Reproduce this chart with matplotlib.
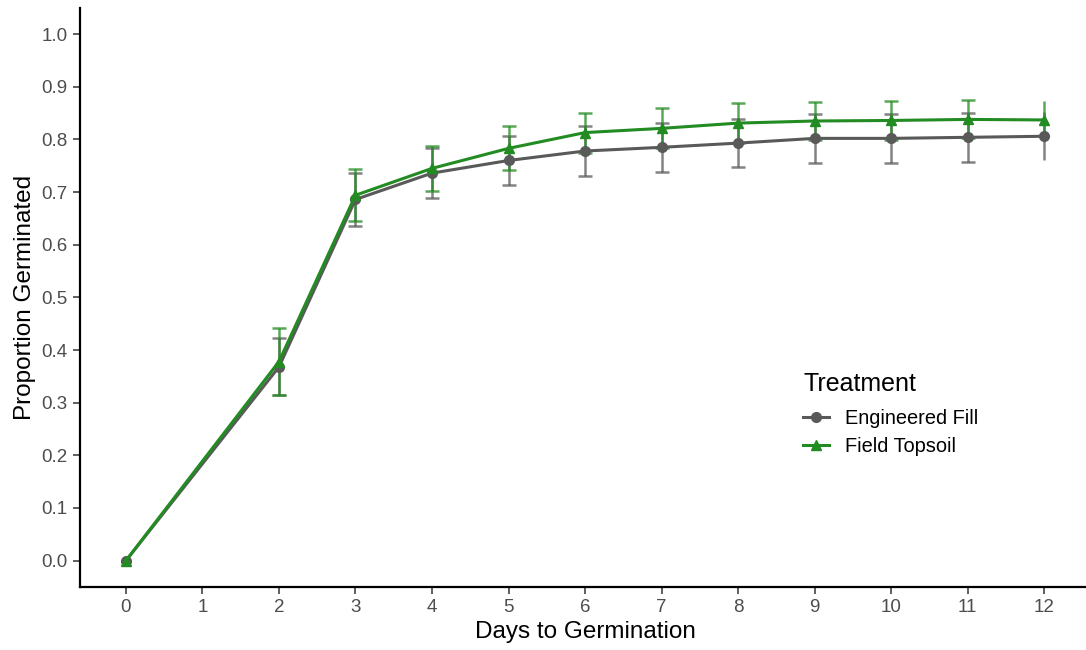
import numpy as np
import matplotlib.pyplot as plt

plt.rcParams['font.family'] = ['Liberation Sans', 'DejaVu Sans']

# germination curves, mean proportion and standard error per day
days = [0, 2, 3, 4, 5, 6, 7, 8, 9, 10, 11, 12]
fill_mean = [0.0, 0.368, 0.686, 0.736, 0.760, 0.778, 0.785, 0.793, 0.802, 0.802, 0.804, 0.806]
fill_se = [0.0, 0.054, 0.051, 0.047, 0.046, 0.047, 0.046, 0.046, 0.047, 0.046, 0.046, 0.046]
topsoil_mean = [0.0, 0.378, 0.694, 0.745, 0.783, 0.813, 0.821, 0.831, 0.835, 0.836, 0.838, 0.837]
topsoil_se = [0.0, 0.063, 0.049, 0.043, 0.042, 0.038, 0.038, 0.038, 0.036, 0.037, 0.036, 0.036]

series = [
    ("Engineered Fill", fill_mean, fill_se, "#595959", "o"),
    ("Field Topsoil", topsoil_mean, topsoil_se, "#228B22", "^"),
]

fig = plt.figure(figsize=(10.86, 6.5), dpi=100)
ax = fig.add_axes([0.0737, 0.097, 0.93, 0.891])

x = np.array(days)
for name, mean, se, col, mk in series:
    mean = np.array(mean)
    se = np.array(se)
    has = se > 0
    # caps on all bars except the last day
    capped = has & (x < 12)
    ax.errorbar(x[capped], mean[capped], yerr=se[capped], fmt='none',
                ecolor=col, alpha=0.75, elinewidth=1.8, capsize=5, capthick=1.8, zorder=2)
    last = has & (x == 12)
    ax.errorbar(x[last], mean[last], yerr=se[last], fmt='none',
                ecolor=col, alpha=0.75, elinewidth=1.8, capsize=0, zorder=2)
    ax.plot(x, mean, color=col, lw=2.2, marker=mk, markersize=7,
            label=name, zorder=3)

ax.set_xlim(-0.6, 12.6)
ax.set_ylim(-0.05, 1.05)
ax.set_xticks(range(0, 13))
ax.set_yticks(np.arange(0, 1.01, 0.1))
ax.set_yticklabels([f"{v:.1f}" for v in np.arange(0, 1.01, 0.1)])

for side in ['top', 'right']:
    ax.spines[side].set_visible(False)
for side in ['left', 'bottom']:
    ax.spines[side].set_linewidth(1.6)
    ax.spines[side].set_color('black')

ax.tick_params(direction='out', length=5, width=1.1, color='#333333',
               labelsize=13.5, labelcolor='#4D4D4D', pad=4)

ax.set_xlabel("Days to Germination", fontsize=17.5, labelpad=3)
ax.set_ylabel("Proportion Germinated", fontsize=17.5, labelpad=4)

leg = ax.legend(title="Treatment", loc='upper left', bbox_to_anchor=(0.702, 0.396),
                frameon=False, fontsize=14.4, title_fontsize=18,
                handlelength=1.3, handletextpad=0.8, labelspacing=0.45,
                borderpad=0.2)
leg._legend_box.align = "left"
leg._legend_box.sep = 10

fig.savefig("out.png", dpi=100)
